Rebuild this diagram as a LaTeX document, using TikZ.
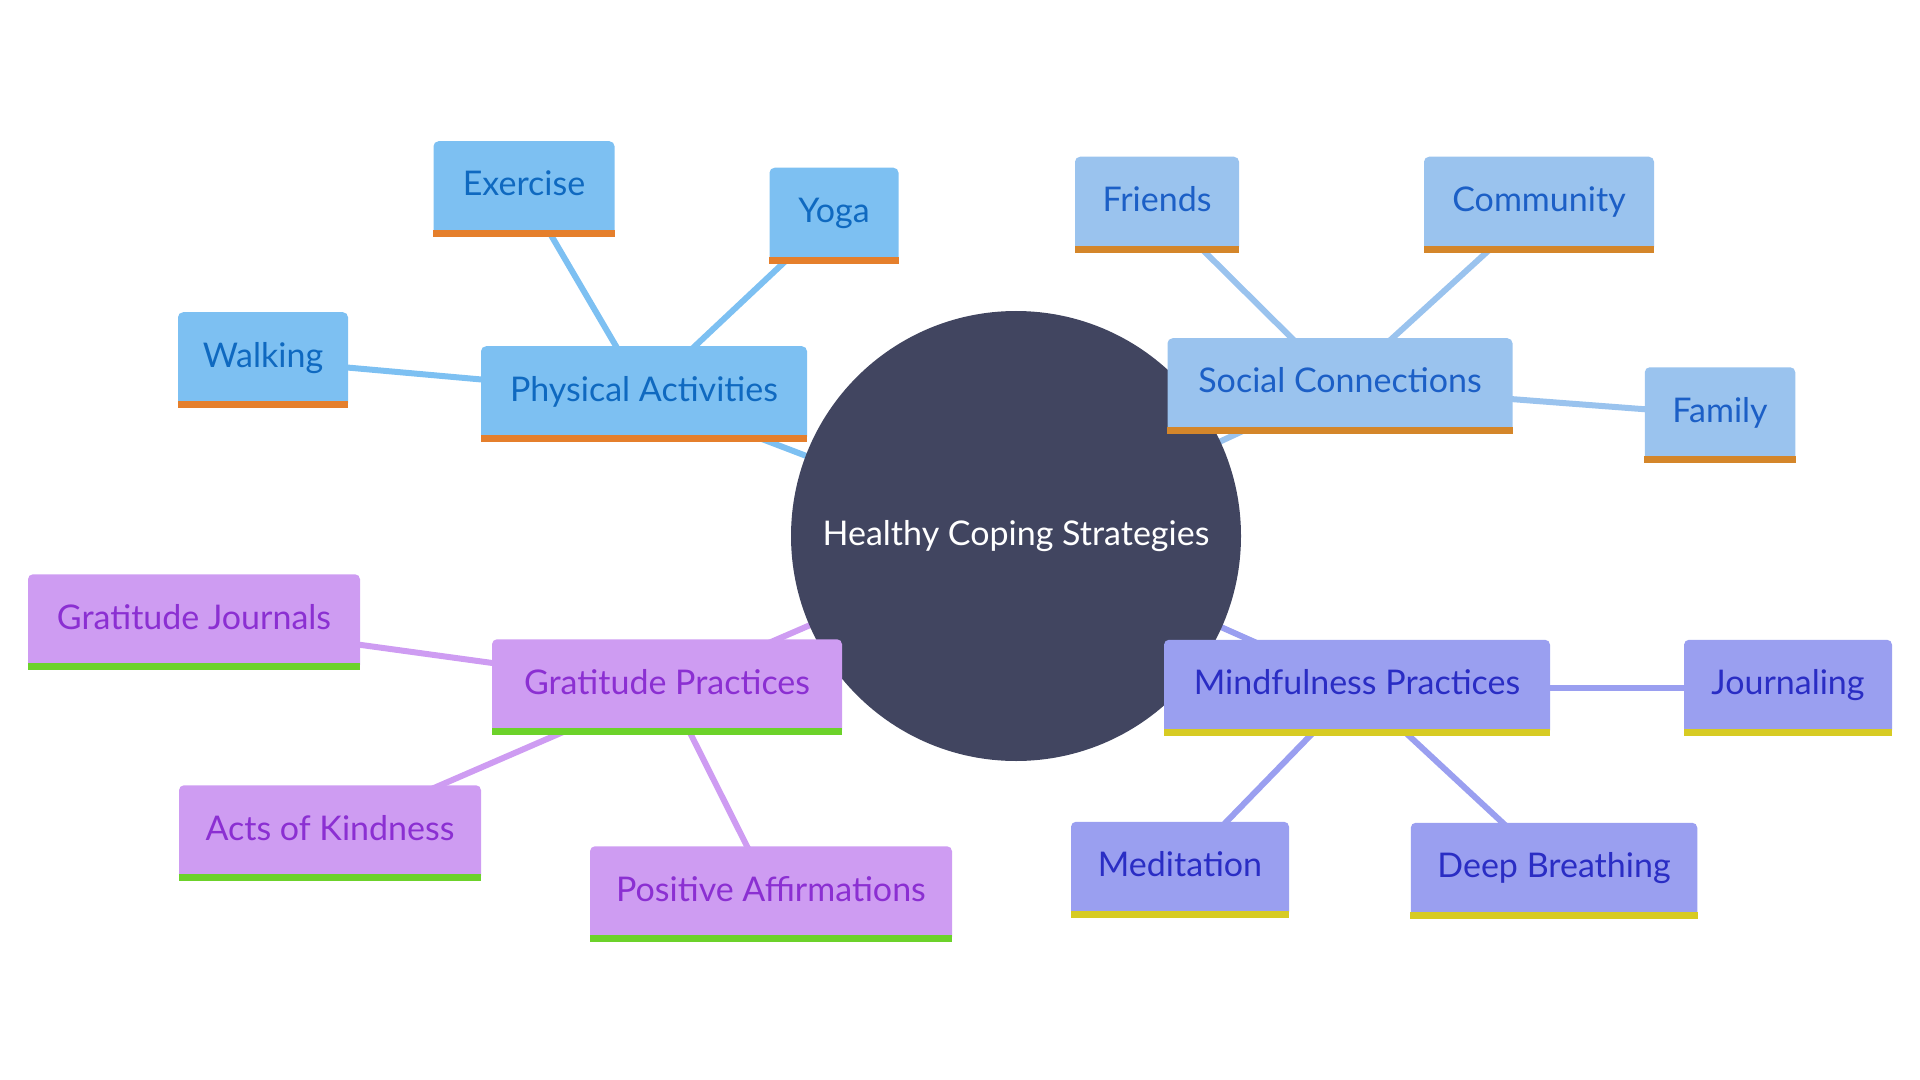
\documentclass[tikz,border=0pt]{standalone}
\usepackage{fontspec}
\setmainfont{Lato}
\usepackage{tikz}
\usetikzlibrary{backgrounds}

\definecolor{hubgray}{HTML}{414560}
\definecolor{physfill}{HTML}{7DC0F2}
\definecolor{phystext}{HTML}{0F69C0}
\definecolor{physbar}{HTML}{E57F2C}
\definecolor{socfill}{HTML}{9AC3EE}
\definecolor{soctext}{HTML}{1C5FC6}
\definecolor{socbar}{HTML}{D4862A}
\definecolor{gratfill}{HTML}{CE9CF2}
\definecolor{grattext}{HTML}{8B2FD2}
\definecolor{gratbar}{HTML}{6CD22A}
\definecolor{mindfill}{HTML}{9A9FF0}
\definecolor{mindtext}{HTML}{2A2DC4}
\definecolor{mindbar}{HTML}{D7CB23}

\begin{document}
\begin{tikzpicture}[x=0.5pt, y=-0.5pt,
        font=\fontsize{17}{20}\selectfont,
        box/.style = {rectangle,
            rounded corners=2.5pt,
            inner sep=0pt,
            minimum height=47.75pt,
            text height=12pt,
            text depth=5pt},
        physbox/.style = {box, fill=physfill, text=phystext},
        socbox/.style = {box, fill=socfill, text=soctext},
        gratbox/.style = {box, fill=gratfill, text=grattext},
        mindbox/.style = {box, fill=mindfill, text=mindtext},
        link/.style = {line width=3pt}]

    \useasboundingbox (0,0) rectangle (1920,1080);

    % Centre circle
    \node[circle,
        fill=hubgray,
        text=white,
        minimum size=225pt,
        inner sep=0pt] (hub) at (1016,536) {Healthy Coping Strategies};

    % Physical activities
    \node[physbox, minimum width=163pt] (physical) at (644,394) {Physical Activities};
    \node[physbox, minimum width=90.5pt] (exercise) at (524,189) {Exercise};
    \node[physbox, minimum width=64.5pt] (yoga) at (834,215.5) {Yoga};
    \node[physbox, minimum width=85pt] (walking) at (263,360) {Walking};

    % Social connections
    \node[socbox, minimum width=172.5pt] (social) at (1340,386) {Social Connections};
    \node[socbox, minimum width=82pt] (friends) at (1157,204.5) {Friends};
    \node[socbox, minimum width=115pt] (community) at (1539,204.5) {Community};
    \node[socbox, minimum width=75.25pt] (family) at (1720,415) {Family};

    % Gratitude practices
    \node[gratbox, minimum width=175pt] (gratitude) at (667,687) {Gratitude Practices};
    \node[gratbox, minimum width=166pt] (journals) at (194,622) {Gratitude Journals};
    \node[gratbox, minimum width=151pt] (kindness) at (330,833) {Acts of Kindness};
    \node[gratbox, minimum width=181pt] (affirm) at (771,894) {Positive Affirmations};

    % Mindfulness practices
    \node[mindbox, minimum width=193pt] (mindful) at (1357,687.5) {Mindfulness Practices};
    \node[mindbox, minimum width=104pt] (journaling) at (1788,687.5) {Journaling};
    \node[mindbox, minimum width=109pt] (meditation) at (1180,869.5) {Meditation};
    \node[mindbox, minimum width=143.25pt] (breathing) at (1554,870.5) {Deep Breathing};

    % Coloured strips under the boxes
    \foreach \n in {physical,exercise,yoga,walking}
        \fill[physbar] ([yshift=3.5pt]\n.south west) rectangle (\n.south east);
    \foreach \n in {social,friends,community,family}
        \fill[socbar] ([yshift=3.5pt]\n.south west) rectangle (\n.south east);
    \foreach \n in {gratitude,journals,kindness,affirm}
        \fill[gratbar] ([yshift=3.5pt]\n.south west) rectangle (\n.south east);
    \foreach \n in {mindful,journaling,meditation,breathing}
        \fill[mindbar] ([yshift=3.5pt]\n.south west) rectangle (\n.south east);

    % Connectors behind everything
    \begin{scope}[on background layer]
        \draw[link, physfill] (hub.center) -- (physical.center);
        \foreach \n in {exercise,yoga,walking}
            \draw[link, physfill] (physical.center) -- (\n.center);
        \draw[link, socfill] (hub.center) -- (social.center);
        \foreach \n in {friends,community,family}
            \draw[link, socfill] (social.center) -- (\n.center);
        \draw[link, gratfill] (hub.center) -- (gratitude.center);
        \foreach \n in {journals,kindness,affirm}
            \draw[link, gratfill] (gratitude.center) -- (\n.center);
        \draw[link, mindfill] (hub.center) -- (mindful.center);
        \foreach \n in {journaling,meditation,breathing}
            \draw[link, mindfill] (mindful.center) -- (\n.center);
    \end{scope}

\end{tikzpicture}
\end{document}
